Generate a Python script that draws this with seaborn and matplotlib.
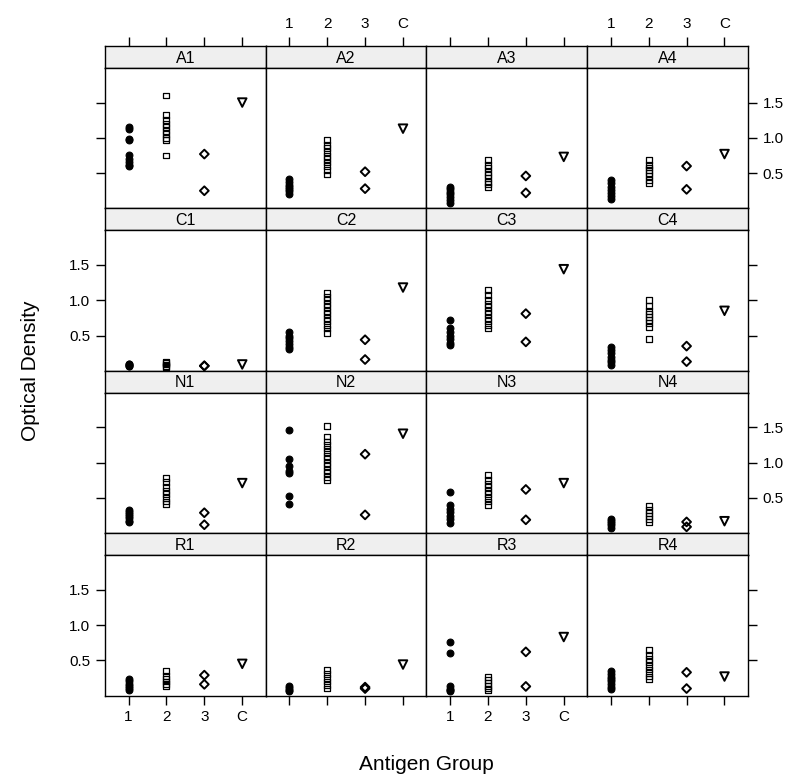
import numpy as np
import pandas as pd
import matplotlib
matplotlib.use("Agg")
import matplotlib.pyplot as plt
import seaborn as sns

sns.set_style("white")
plt.rcParams['font.family'] = ['Liberation Sans', 'DejaVu Sans']
plt.rcParams['text.color'] = 'black'
plt.rcParams['axes.labelcolor'] = 'black'
plt.rcParams['xtick.color'] = 'black'
plt.rcParams['ytick.color'] = 'black'

# ---- data: per panel, [group 1, group 2, group 3, control C] ----
panels = ["A1", "A2", "A3", "A4", "C1", "C2", "C3", "C4",
          "N1", "N2", "N3", "N4", "R1", "R2", "R3", "R4"]
groups = ["1", "2", "3", "C"]

A1 = [[1.15, 1.13, 0.99, 0.97, 0.75, 0.70, 0.66, 0.62, 0.60],
      [1.60, 1.32, 1.25, 1.20, 1.15, 1.10, 1.05, 1.00, 0.97, 0.75],
      [0.77, 0.25], [1.50]]
A2 = [[0.42, 0.38, 0.33, 0.30, 0.27, 0.24, 0.20],
      [0.97, 0.90, 0.85, 0.80, 0.74, 0.70, 0.65, 0.60, 0.55, 0.48],
      [0.52, 0.28], [1.13]]
A3 = [[0.30, 0.27, 0.23, 0.20, 0.16, 0.12, 0.08],
      [0.68, 0.62, 0.57, 0.52, 0.47, 0.43, 0.38, 0.34, 0.30],
      [0.46, 0.22], [0.73]]
A4 = [[0.40, 0.36, 0.31, 0.26, 0.22, 0.18, 0.14],
      [0.68, 0.62, 0.58, 0.54, 0.50, 0.46, 0.40, 0.36],
      [0.60, 0.27], [0.77]]
C1 = [[0.10, 0.09, 0.08, 0.07, 0.07],
      [0.13, 0.11, 0.09, 0.07, 0.06],
      [0.07, 0.07], [0.09]]
C2 = [[0.55, 0.50, 0.46, 0.42, 0.38, 0.34, 0.31],
      [1.10, 1.05, 1.00, 0.95, 0.90, 0.85, 0.80, 0.75, 0.70, 0.65, 0.60, 0.53],
      [0.44, 0.16], [1.18]]
C3 = [[0.72, 0.60, 0.55, 0.50, 0.45, 0.40, 0.36],
      [1.15, 1.07, 1.00, 0.95, 0.90, 0.85, 0.80, 0.75, 0.70, 0.65, 0.60],
      [0.81, 0.41], [1.44]]
C4 = [[0.34, 0.30, 0.25, 0.20, 0.16, 0.12, 0.08],
      [1.00, 0.92, 0.85, 0.80, 0.76, 0.72, 0.68, 0.62, 0.45],
      [0.35, 0.13], [0.85]]
N1 = [[0.33, 0.30, 0.27, 0.24, 0.21, 0.18, 0.16],
      [0.78, 0.72, 0.66, 0.60, 0.55, 0.50, 0.45, 0.41],
      [0.29, 0.12], [0.71]]
N2 = [[1.46, 1.05, 0.95, 0.88, 0.85, 0.53, 0.42],
      [1.52, 1.37, 1.30, 1.25, 1.20, 1.15, 1.10, 1.05, 1.00, 0.95, 0.90, 0.85, 0.80, 0.76],
      [1.12, 0.26], [1.41]]
N3 = [[0.58, 0.40, 0.35, 0.30, 0.25, 0.20, 0.15],
      [0.82, 0.75, 0.70, 0.65, 0.60, 0.55, 0.50, 0.45, 0.40],
      [0.62, 0.19], [0.71]]
N4 = [[0.20, 0.17, 0.14, 0.11, 0.08],
      [0.38, 0.33, 0.28, 0.24, 0.20, 0.16],
      [0.16, 0.09], [0.17]]
R1 = [[0.24, 0.20, 0.17, 0.14, 0.11, 0.08],
      [0.35, 0.28, 0.24, 0.20, 0.17, 0.14],
      [0.29, 0.16], [0.45]]
R2 = [[0.14, 0.11, 0.08, 0.06],
      [0.36, 0.30, 0.25, 0.20, 0.15, 0.10],
      [0.12, 0.10], [0.44]]
R3 = [[0.76, 0.60, 0.13, 0.10, 0.08, 0.06],
      [0.26, 0.22, 0.18, 0.14, 0.10, 0.08],
      [0.62, 0.13], [0.83]]
R4 = [[0.35, 0.31, 0.27, 0.23, 0.20, 0.16, 0.12, 0.09],
      [0.64, 0.58, 0.52, 0.47, 0.42, 0.37, 0.32, 0.27, 0.23],
      [0.33, 0.10], [0.27]]

panel_data = [A1, A2, A3, A4, C1, C2, C3, C4, N1, N2, N3, N4, R1, R2, R3, R4]
y_ticks = [0.5, 1.0, 1.5]
y_ticklabels = ["0.5", "1.0", "1.5"]

rows = []
for name, pdata in zip(panels, panel_data):
    for gi, (g, vals) in enumerate(zip(groups, pdata)):
        for v in vals:
            rows.append({"panel": name, "group": g, "gpos": gi + 1, "od": v})
df = pd.DataFrame(rows)

# ---- layout (pixels) ----
W, H = 799, 780
fig = plt.figure(figsize=(W / 100, H / 100), dpi=100)
left_px, right_px = 105, 748
top_px = 46
row_h = 162.4
strip_h = 22
col_w = (right_px - left_px) / 4

marker_style = {
    "1": dict(marker="o", s=24, color="black", edgecolor="black", linewidth=0.8),
    "2": dict(marker="s", s=18, facecolor="none", edgecolor="black", linewidth=0.9),
    "3": dict(marker="D", s=20, facecolor="none", edgecolor="black", linewidth=1.4),
    "C": dict(marker="v", s=38, facecolor="none", edgecolor="black", linewidth=1.4),
}

xlim = (0.38, 4.62)
ylim = (0.0, 1.99)
tick_len = 6.5
fs_tick = 11

for idx, name in enumerate(panels):
    r, c = divmod(idx, 4)
    x0 = left_px + c * col_w
    ys = top_px + r * row_h
    # strip axis
    sax = fig.add_axes([x0 / W, 1 - (ys + strip_h) / H, col_w / W, strip_h / H])
    sax.set_facecolor("#efefef")
    sax.set_xlim(xlim)
    sax.set_ylim(0, 1)
    sax.set_yticks([])
    sax.text(0.5, 0.45, name, transform=sax.transAxes, ha="center", va="center", fontsize=11.5)
    for sp in sax.spines.values():
        sp.set_color("black")
        sp.set_linewidth(1.0)
    if r == 0:
        sax.xaxis.tick_top()
        sax.set_xticks([1, 2, 3, 4])
        if c % 2 == 1:
            sax.set_xticklabels(groups, fontsize=fs_tick)
        else:
            sax.set_xticklabels([])
        sax.tick_params(axis="x", direction="out", length=tick_len, width=1, pad=4, top=True, bottom=False)
    else:
        sax.set_xticks([])

    # panel axis
    ph = row_h - strip_h
    ax = fig.add_axes([x0 / W, 1 - (ys + row_h) / H, col_w / W, ph / H])
    sub = df[df["panel"] == name]
    for g in groups:
        gd = sub[sub["group"] == g]
        sns.scatterplot(data=gd, x="gpos", y="od", ax=ax, legend=False, zorder=3, **marker_style[g])
    ax.set_xlim(xlim)
    ax.set_ylim(ylim)
    ax.set_xlabel("")
    ax.set_ylabel("")
    for sp in ax.spines.values():
        sp.set_visible(True)
        sp.set_color("black")
        sp.set_linewidth(1.0)

    # x ticks at bottom row
    if r == 3:
        ax.set_xticks([1, 2, 3, 4])
        if c % 2 == 0:
            ax.set_xticklabels(groups, fontsize=fs_tick)
        else:
            ax.set_xticklabels([])
        ax.tick_params(axis="x", direction="out", length=tick_len, width=1, pad=4, bottom=True)
    else:
        ax.set_xticks([])

    # y ticks
    ax.set_yticks(y_ticks)
    if c == 0:
        ax.tick_params(axis="y", direction="out", length=tick_len, width=1, pad=4,
                       left=True, right=False, labelleft=(r % 2 == 1), labelright=False,
                       labelsize=fs_tick)
        if r % 2 == 1:
            ax.set_yticklabels(y_ticklabels)
    elif c == 3:
        ax.tick_params(axis="y", direction="out", length=tick_len, width=1, pad=4,
                       left=False, right=True, labelleft=False, labelright=(r % 2 == 0),
                       labelsize=fs_tick)
        if r % 2 == 0:
            ax.set_yticklabels(y_ticklabels)
    else:
        ax.set_yticks([])

mid_y = top_px + 2 * row_h
fig.text(30 / W, 1 - mid_y / H, "Optical Density", rotation=90, ha="center", va="center", fontsize=15)
fig.text((left_px + right_px) / 2 / W, 1 - 765 / H, "Antigen Group", ha="center", va="center", fontsize=15)

fig.savefig("out.png", dpi=100)
